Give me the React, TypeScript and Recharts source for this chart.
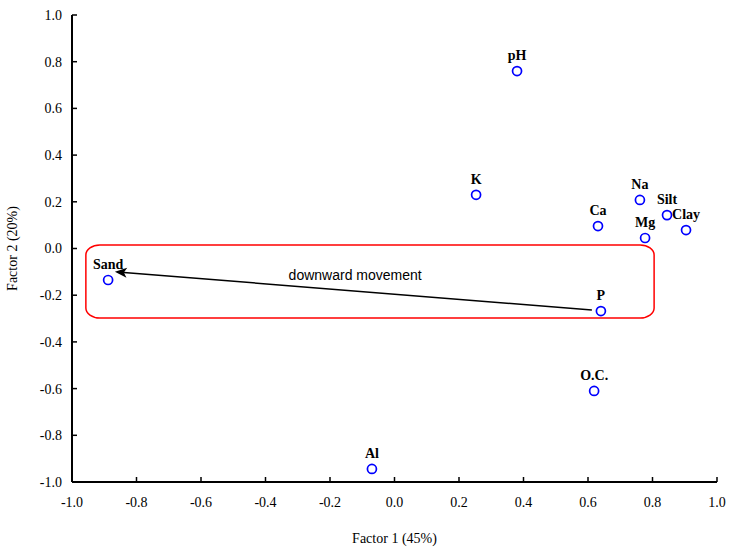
import React from "react";
import {
  ScatterChart,
  Scatter,
  XAxis,
  YAxis,
  ReferenceArea,
  ReferenceLine,
  ReferenceDot,
} from "recharts";

const names = ["pH", "K", "Ca", "Na", "Silt", "Mg", "Clay", "Sand", "P", "O.C.", "Al"];
const factor1 = [0.38, 0.253, 0.631, 0.761, 0.845, 0.777, 0.904, -0.888, 0.64, 0.619, -0.07];
const factor2 = [0.76, 0.23, 0.096, 0.208, 0.143, 0.045, 0.079, -0.135, -0.268, -0.61, -0.944];
const ticks = [-1.0, -0.8, -0.6, -0.4, -0.2, 0.0, 0.2, 0.4, 0.6, 0.8, 1.0];

const boxX = [-0.957, 0.805];
const boxY = [0.015, -0.298];
const arrowFrom = { x: 0.612, y: -0.263 };
const arrowTo = { x: -0.867, y: -0.1 };
const noteAt = { x: -0.122, y: -0.113, text: "downward movement" };

const points = names.map((name, i) => ({ name, x: factor1[i], y: factor2[i] }));

const serif = "'Liberation Serif', 'Times New Roman', serif";
const fmt = (v: number) => v.toFixed(1);
const tickStyle = { fontFamily: serif, fontSize: 14, fill: "#000" };

const PointShape = (props: any) => {
  const { cx, cy, payload } = props;
  return (
    <g>
      <circle cx={cx} cy={cy} r={4.5} fill="none" stroke="#0000ff" strokeWidth={1.7} />
      <text
        x={cx}
        y={cy - 11}
        textAnchor="middle"
        fontFamily={serif}
        fontSize={14}
        fontWeight="bold"
        fill="#000"
      >
        {payload.name}
      </text>
    </g>
  );
};

const RoundBox = (props: any) => {
  const { x, y, width, height } = props;
  return (
    <rect x={x} y={y} width={width} height={height} rx={14} ry={10} fill="none" stroke="#ff0000" strokeWidth={1.5} />
  );
};

const Arrow = (props: any) => {
  const { x1, y1, x2, y2 } = props;
  const ang = Math.atan2(y2 - y1, x2 - x1);
  const len = 12;
  const w = 5;
  const bx = x2 - len * Math.cos(ang);
  const by = y2 - len * Math.sin(ang);
  const px = -Math.sin(ang) * w;
  const py = Math.cos(ang) * w;
  const notch = 3;
  const nx = x2 - (len - notch) * Math.cos(ang);
  const ny = y2 - (len - notch) * Math.sin(ang);
  return (
    <g>
      <line x1={x1} y1={y1} x2={nx} y2={ny} stroke="#000" strokeWidth={1.5} />
      <polygon points={`${x2},${y2} ${bx + px},${by + py} ${nx},${ny} ${bx - px},${by - py}`} fill="#000" />
    </g>
  );
};

export default function App() {
  return (
    <div style={{ position: "absolute", left: 0, top: 0, width: 729, height: 547, background: "#fff" }}>
      <ScatterChart width={729} height={547} margin={{ top: 15, right: 12, bottom: 0, left: 0 }}>
        <XAxis
          type="number"
          dataKey="x"
          domain={[-1, 1]}
          ticks={ticks}
          tickFormatter={fmt}
          allowDataOverflow
          height={65}
          tickSize={-5}
          tickMargin={20}
          tick={tickStyle}
          stroke="#000"
          axisLine={{ stroke: "#000", strokeWidth: 2 }}
          tickLine={{ stroke: "#000", strokeWidth: 1.5 }}
          label={{ value: "Factor 1 (45%)", position: "insideBottom", offset: 4, style: { fontFamily: serif, fontSize: 14, fill: "#000" } }}
        />
        <XAxis
          xAxisId="top"
          orientation="top"
          type="number"
          dataKey="x"
          domain={[-1, 1]}
          ticks={ticks}
          tickFormatter={() => ""}
          height={0}
          tickSize={-5}
          stroke="#000"
          axisLine={{ stroke: "#000", strokeWidth: 2 }}
          tickLine={{ stroke: "#000", strokeWidth: 1.5 }}
        />
        <YAxis
          type="number"
          dataKey="y"
          domain={[-1, 1]}
          ticks={ticks}
          tickFormatter={fmt}
          allowDataOverflow
          width={72}
          tickSize={-5}
          tickMargin={15}
          tick={tickStyle}
          stroke="#000"
          axisLine={{ stroke: "#000", strokeWidth: 2 }}
          tickLine={{ stroke: "#000", strokeWidth: 1.5 }}
          label={{ value: "Factor 2 (20%)", angle: -90, position: "insideLeft", offset: 12, style: { textAnchor: "middle", fontFamily: serif, fontSize: 14, fill: "#000" } }}
        />
        <YAxis
          yAxisId="right"
          orientation="right"
          type="number"
          dataKey="y"
          domain={[-1, 1]}
          ticks={ticks}
          tickFormatter={() => ""}
          width={0}
          tickSize={-5}
          stroke="#000"
          axisLine={{ stroke: "#000", strokeWidth: 2 }}
          tickLine={{ stroke: "#000", strokeWidth: 1.5 }}
        />
        <ReferenceArea x1={boxX[0]} x2={boxX[1]} y1={boxY[0]} y2={boxY[1]} shape={RoundBox} />
        <ReferenceLine segment={[arrowFrom, arrowTo]} shape={Arrow} />
        <ReferenceDot
          x={noteAt.x}
          y={noteAt.y}
          r={0}
          fill="none"
          stroke="none"
          label={{ value: noteAt.text, position: "center", style: { fontFamily: "'Liberation Sans', Arial, sans-serif", fontSize: 14, fill: "#000" } }}
        />
        <Scatter data={points} shape={PointShape} isAnimationActive={false} />
      </ScatterChart>
    </div>
  );
}
